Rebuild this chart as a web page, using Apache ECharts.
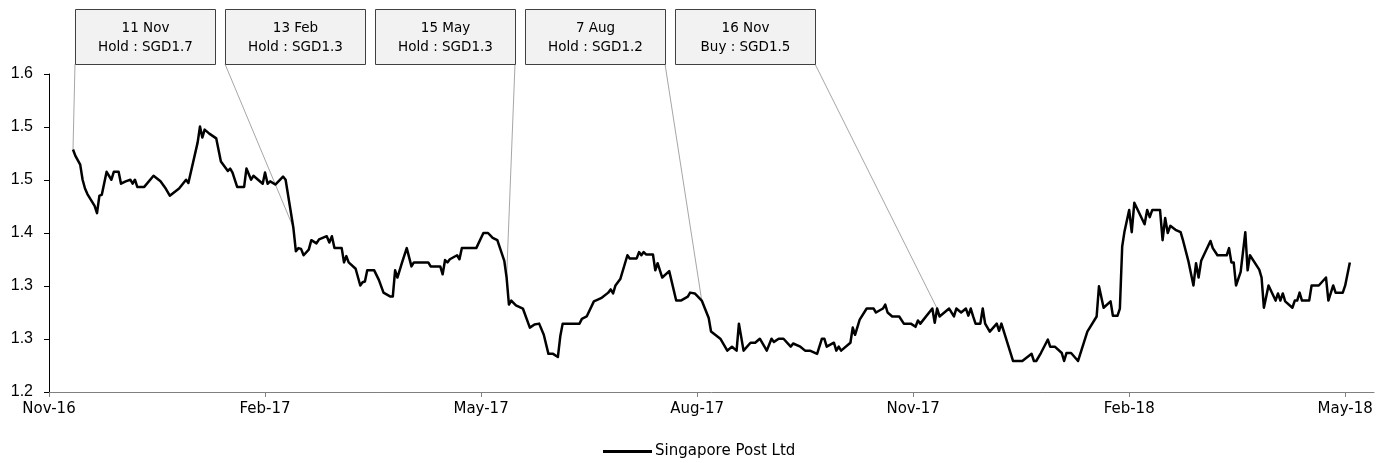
<!DOCTYPE html>
<html>
<head>
<meta charset="utf-8">
<script src="https://cdn.jsdelivr.net/npm/echarts@6/dist/echarts.min.js"></script>
<style>
html,body{margin:0;padding:0;background:#fff;}
#chart{width:1389px;height:463px;}
</style>
</head>
<body>
<div id="chart"></div>
<script>
// ---- DATA ----
const seriesName = 'Singapore Post Ltd';
const xTickLabels = ['Nov-16','Feb-17','May-17','Aug-17','Nov-17','Feb-18','May-18'];
const yTickValues = [1.2, 1.2 + 0.4/6, 1.2 + 0.8/6, 1.4, 1.2 + 1.6/6, 1.2 + 2.0/6, 1.6];
const dates = [
'2016-11-11','2016-11-12','2016-11-14','2016-11-15','2016-11-16','2016-11-17','2016-11-20','2016-11-21','2016-11-22','2016-11-23',
'2016-11-25','2016-11-27','2016-11-28','2016-11-30','2016-12-01','2016-12-03','2016-12-05','2016-12-06','2016-12-07','2016-12-08',
'2016-12-11','2016-12-15','2016-12-18','2016-12-20','2016-12-22','2016-12-26','2016-12-29','2016-12-30','2017-01-03','2017-01-04',
'2017-01-05','2017-01-06','2017-01-08','2017-01-11','2017-01-13','2017-01-16','2017-01-17','2017-01-18','2017-01-20','2017-01-23',
'2017-01-24','2017-01-26','2017-01-27','2017-01-31','2017-02-01','2017-02-02','2017-02-03','2017-02-05','2017-02-08','2017-02-09',
'2017-02-12','2017-02-13','2017-02-14','2017-02-15','2017-02-16','2017-02-18','2017-02-19','2017-02-21','2017-02-22','2017-02-25',
'2017-02-26','2017-02-27','2017-02-28','2017-03-03','2017-03-04','2017-03-05','2017-03-06','2017-03-09','2017-03-11','2017-03-12',
'2017-03-13','2017-03-14','2017-03-17','2017-03-19','2017-03-21','2017-03-24','2017-03-25','2017-03-26','2017-03-27','2017-03-29',
'2017-03-31','2017-04-02','2017-04-03','2017-04-09','2017-04-10','2017-04-14','2017-04-15','2017-04-16','2017-04-17','2017-04-18',
'2017-04-21','2017-04-22','2017-04-23','2017-04-29','2017-05-02','2017-05-04','2017-05-06','2017-05-08','2017-05-11','2017-05-12',
'2017-05-13','2017-05-14','2017-05-16','2017-05-19','2017-05-22','2017-05-24','2017-05-26','2017-05-28','2017-05-30','2017-06-01',
'2017-06-03','2017-06-04','2017-06-05','2017-06-12','2017-06-13','2017-06-15','2017-06-18','2017-06-21','2017-06-24','2017-06-25',
'2017-06-26','2017-06-27','2017-06-29','2017-07-02','2017-07-03','2017-07-06','2017-07-07','2017-07-08','2017-07-09','2017-07-10',
'2017-07-13','2017-07-14','2017-07-15','2017-07-17','2017-07-20','2017-07-23','2017-07-25','2017-07-28','2017-07-29','2017-07-31',
'2017-08-03','2017-08-06','2017-08-07','2017-08-11','2017-08-14','2017-08-16','2017-08-18','2017-08-19','2017-08-21','2017-08-24',
'2017-08-26','2017-08-28','2017-08-31','2017-09-02','2017-09-03','2017-09-05','2017-09-07','2017-09-10','2017-09-11','2017-09-14',
'2017-09-16','2017-09-18','2017-09-21','2017-09-23','2017-09-24','2017-09-25','2017-09-28','2017-09-29','2017-09-30','2017-10-01',
'2017-10-05','2017-10-06','2017-10-07','2017-10-09','2017-10-12','2017-10-15','2017-10-16','2017-10-19','2017-10-20','2017-10-21',
'2017-10-23','2017-10-26','2017-10-28','2017-10-31','2017-11-02','2017-11-03','2017-11-04','2017-11-09','2017-11-10','2017-11-11',
'2017-11-12','2017-11-14','2017-11-16','2017-11-18','2017-11-19','2017-11-21','2017-11-23','2017-11-24','2017-11-25','2017-11-26',
'2017-11-27','2017-11-29','2017-11-30','2017-12-01','2017-12-03','2017-12-06','2017-12-07','2017-12-08','2017-12-13','2017-12-17',
'2017-12-21','2017-12-22','2017-12-23','2017-12-25','2017-12-28','2017-12-29','2017-12-31','2018-01-03','2018-01-04','2018-01-05',
'2018-01-07','2018-01-10','2018-01-14','2018-01-18','2018-01-19','2018-01-21','2018-01-24','2018-01-25','2018-01-27','2018-01-28',
'2018-01-29','2018-01-30','2018-02-01','2018-02-02','2018-02-03','2018-02-07','2018-02-08','2018-02-09','2018-02-10','2018-02-13',
'2018-02-14','2018-02-15','2018-02-16','2018-02-17','2018-02-19','2018-02-21','2018-02-22','2018-02-24','2018-02-26','2018-02-27',
'2018-02-28','2018-03-01','2018-03-05','2018-03-06','2018-03-08','2018-03-12','2018-03-13','2018-03-14','2018-03-15','2018-03-16',
'2018-03-18','2018-03-20','2018-03-21','2018-03-22','2018-03-26','2018-03-27','2018-03-28','2018-03-30','2018-04-02','2018-04-03',
'2018-04-04','2018-04-05','2018-04-06','2018-04-09','2018-04-10','2018-04-11','2018-04-12','2018-04-13','2018-04-16','2018-04-17',
'2018-04-20','2018-04-23','2018-04-24','2018-04-26','2018-04-27','2018-04-30','2018-05-01','2018-05-03'
];
const prices = [
1.505,1.497,1.486,1.467,1.456,1.449,1.434,1.425,1.447,1.448,
1.477,1.467,1.477,1.477,1.462,1.465,1.467,1.462,1.467,1.458,
1.458,1.472,1.465,1.457,1.447,1.456,1.467,1.463,1.514,1.534,
1.520,1.530,1.525,1.519,1.490,1.478,1.481,1.476,1.458,1.458,
1.481,1.467,1.472,1.462,1.476,1.462,1.465,1.461,1.471,1.467,
1.407,1.377,1.381,1.380,1.372,1.379,1.391,1.387,1.392,1.396,
1.388,1.396,1.381,1.381,1.363,1.371,1.363,1.355,1.334,1.338,
1.339,1.353,1.353,1.341,1.325,1.320,1.320,1.353,1.344,1.363,
1.381,1.358,1.363,1.363,1.358,1.358,1.348,1.366,1.363,1.367,
1.372,1.367,1.381,1.381,1.400,1.400,1.394,1.391,1.365,1.344,
1.310,1.315,1.309,1.305,1.281,1.285,1.286,1.272,1.248,1.248,
1.244,1.270,1.286,1.286,1.292,1.295,1.314,1.318,1.325,1.329,
1.324,1.334,1.342,1.372,1.368,1.368,1.376,1.372,1.376,1.373,
1.373,1.353,1.362,1.344,1.352,1.315,1.315,1.320,1.325,1.324,
1.315,1.293,1.276,1.267,1.252,1.257,1.252,1.286,1.252,1.262,
1.262,1.267,1.252,1.267,1.263,1.267,1.267,1.257,1.261,1.257,
1.252,1.252,1.248,1.267,1.267,1.257,1.262,1.252,1.257,1.252,
1.262,1.281,1.272,1.291,1.305,1.305,1.300,1.305,1.310,1.300,
1.295,1.295,1.286,1.286,1.282,1.290,1.286,1.305,1.287,1.305,
1.295,1.300,1.305,1.295,1.305,1.300,1.305,1.296,1.305,1.295,
1.286,1.286,1.305,1.286,1.276,1.286,1.277,1.286,1.239,1.239,
1.248,1.239,1.239,1.249,1.266,1.257,1.257,1.249,1.239,1.249,
1.249,1.239,1.276,1.295,1.333,1.306,1.314,1.296,1.296,1.305,
1.383,1.402,1.429,1.401,1.438,1.411,1.429,1.420,1.429,1.429,
1.391,1.419,1.400,1.409,1.404,1.401,1.390,1.365,1.334,1.362,
1.344,1.365,1.390,1.381,1.372,1.372,1.381,1.363,1.363,1.334,
1.351,1.401,1.353,1.372,1.354,1.344,1.306,1.334,1.315,1.324,
1.315,1.324,1.314,1.306,1.315,1.315,1.325,1.315,1.315,1.334,
1.334,1.344,1.315,1.334,1.325,1.325,1.334,1.363
];
// annotation callouts: the data point each one points to, and its two text lines
const annDates = ['2016-11-11','2017-02-12','2017-05-12','2017-08-03','2017-11-11'];
const annDateText = ['11 Nov','13 Feb','15 May','7 Aug','16 Nov'];
const annCallText = ['Hold : SGD1.7','Hold : SGD1.3','Hold : SGD1.3','Hold : SGD1.2','Buy : SGD1.5'];

// ---- helpers ----
// fractional months since 1 Nov 2016 (x axis unit)
function monthIndex(s) {
  const p = s.split('-').map(Number);
  const dim = new Date(p[0], p[1], 0).getDate();
  return (p[0] - 2016) * 12 + (p[1] - 1) - 10 + (p[2] - 1) / dim;
}
const seriesData = dates.map((d, i) => [monthIndex(d), prices[i]]);
const xTickValues = xTickLabels.map((_, i) => i * 3);

const chart = echarts.init(document.getElementById('chart'), null, {renderer: 'canvas'});
const LABEL_FONT = 'DejaVu Sans';

chart.setOption({
  animation: false,
  backgroundColor: '#ffffff',
  grid: {left: 49, right: 15, top: 74, bottom: 71, containLabel: false},
  legend: {
    data: [seriesName],
    left: 603, top: 444, padding: 0,
    icon: 'rect', itemWidth: 49, itemHeight: 3, itemGap: 5,
    textStyle: {fontFamily: LABEL_FONT, fontSize: 15, color: '#000', padding: [0, 0, 0, -2]}
  },
  xAxis: {
    type: 'value', min: 0, max: 18.4, interval: 3,
    axisLine: {show: true, onZero: false, lineStyle: {color: '#808080', width: 1}},
    axisTick: {show: true, length: 5, lineStyle: {color: '#808080'}, customValues: xTickValues},
    axisLabel: {
      customValues: xTickValues,
      fontFamily: LABEL_FONT, fontSize: 15, color: '#000', margin: 10,
      formatter: v => xTickLabels[Math.round(v / 3)] || ''
    },
    splitLine: {show: false}
  },
  yAxis: {
    type: 'value', min: 1.2, max: 1.6, interval: 0.4 / 6,
    axisLine: {show: true, onZero: false, lineStyle: {color: '#000', width: 1}},
    axisTick: {show: true, length: 5, lineStyle: {color: '#000'}, customValues: yTickValues},
    axisLabel: {
      customValues: yTickValues,
      fontFamily: 'Liberation Sans', fontSize: 16, color: '#000', margin: 16,
      formatter: v => v.toFixed(1)
    },
    splitLine: {show: false}
  },
  series: [{
    name: seriesName, type: 'line', data: seriesData,
    showSymbol: false, symbol: 'none',
    lineStyle: {color: '#000', width: 2.5, join: 'round'},
    itemStyle: {color: '#000'},
    z: 3
  }]
});

// ---- callout boxes ----
const boxW = 140, boxH = 55, boxTop = 9, boxLefts = [75, 225, 375, 525, 675];
const graphics = [];
annDates.forEach((d, i) => {
  const idx = dates.indexOf(d);
  const pt = chart.convertToPixel({seriesIndex: 0}, seriesData[idx]);
  const bx = boxLefts[i];
  const ax = i < 2 ? bx : bx + boxW;
  graphics.push({
    type: 'line', z: 1,
    shape: {x1: ax, y1: boxTop + boxH, x2: pt[0], y2: pt[1]},
    style: {stroke: '#a6a6a6', lineWidth: 1}
  });
  graphics.push({
    type: 'rect', z: 5,
    shape: {x: bx + 0.5, y: boxTop + 0.5, width: boxW, height: boxH},
    style: {fill: '#f2f2f2', stroke: '#404040', lineWidth: 1}
  });
  graphics.push({
    type: 'text', z: 6,
    x: bx + boxW / 2 + 0.5, y: boxTop + boxH / 2 + 1,
    style: {
      text: annDateText[i] + '\n' + annCallText[i],
      font: '13.5px "DejaVu Sans"', fill: '#000',
      align: 'center', verticalAlign: 'middle', lineHeight: 19
    }
  });
});
chart.setOption({graphic: graphics});
</script>
</body>
</html>
